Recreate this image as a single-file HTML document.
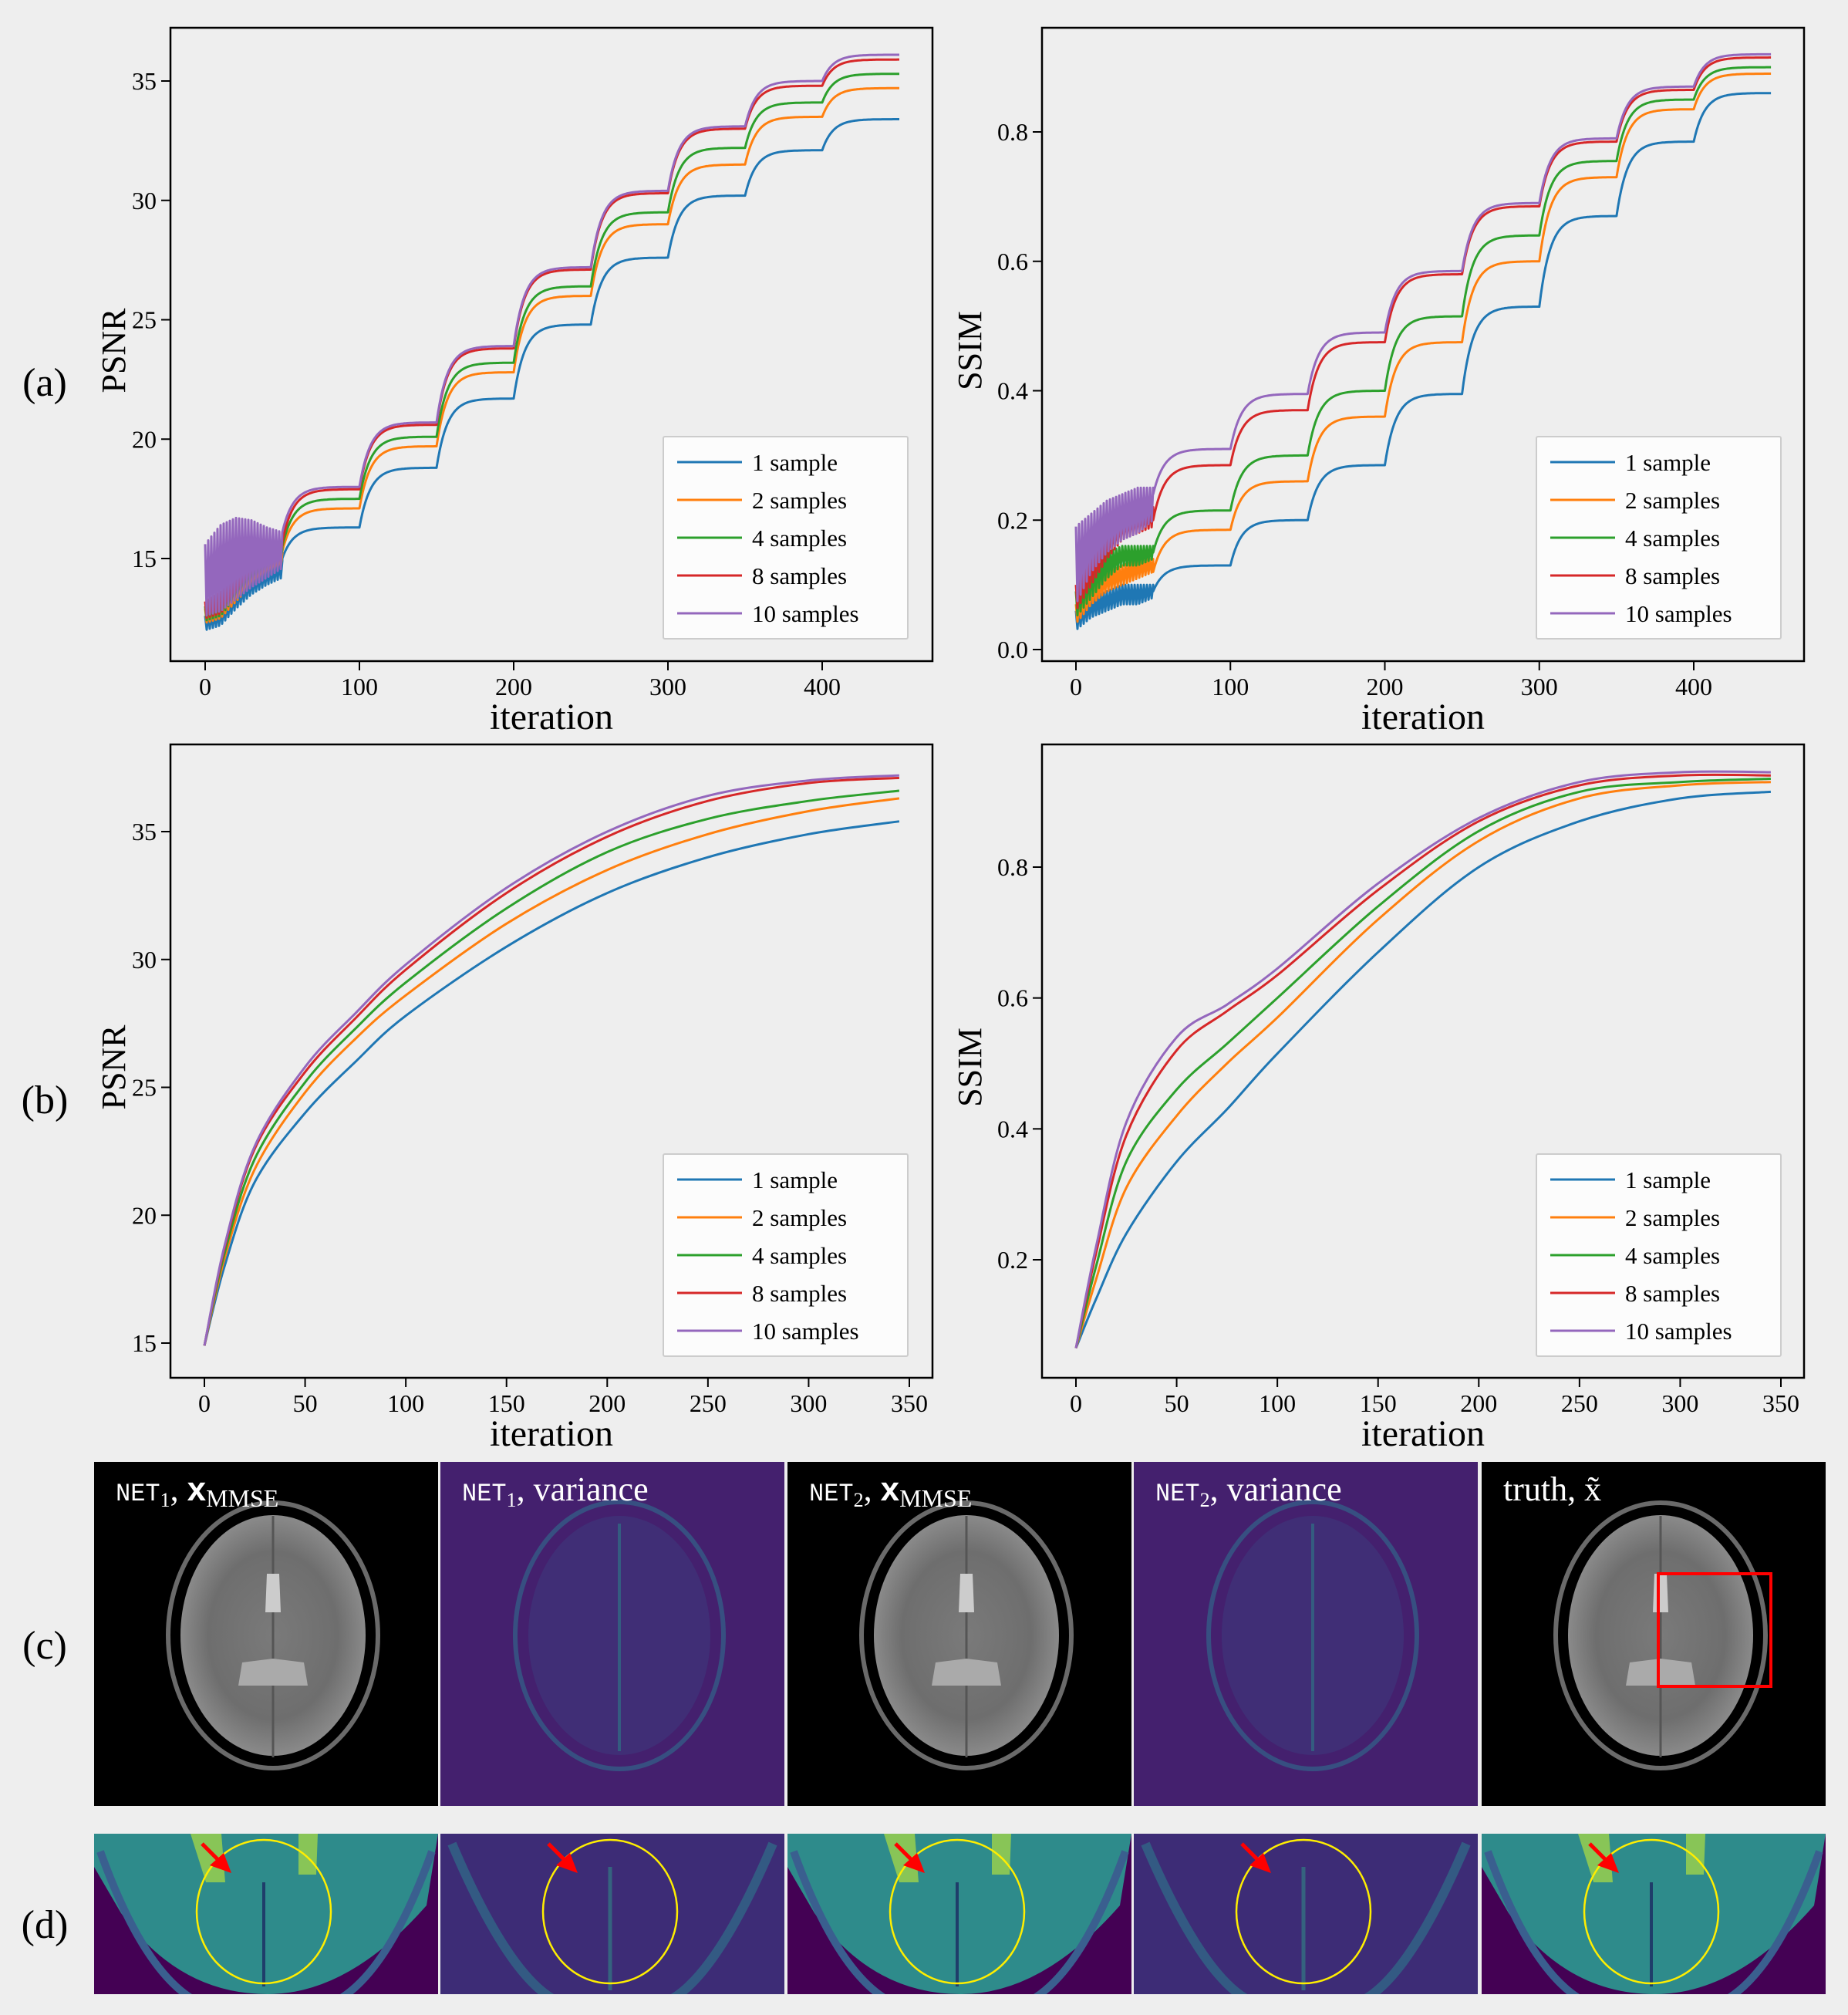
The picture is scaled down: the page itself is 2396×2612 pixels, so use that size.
<!DOCTYPE html>
<html><head><meta charset="utf-8">
<style>
html,body{margin:0;padding:0;background:#fff;}
svg{display:block;}
text{font-family:"Liberation Serif",serif;}
</style></head>
<body>
<svg id="fig" width="2396" height="2612" viewBox="0 0 2396 2612" xmlns="http://www.w3.org/2000/svg">
<defs>
<radialGradient id="brainG" cx="50%" cy="50%" r="50%">
<stop offset="0" stop-color="#7a7a7a"/><stop offset="0.7" stop-color="#6e6e6e"/><stop offset="1" stop-color="#8a8a8a"/>
</radialGradient>
</defs>
<rect x="0" y="0" width="2396" height="2612" fill="#eeeeee"/>
<g id="charts"></g>
<g id="images"></g>
</svg>
<script>
const seriesNames = ["1 sample","2 samples","4 samples","8 samples","10 samples"];
const seriesColors = ["#1f77b4","#ff7f0e","#2ca02c","#d62728","#9467bd"];
const stageEnds = [100,150,200,250,300,350,400,450];
const psnrA_start = [15.0,15.3,15.5,15.7,16.1];
const psnrA_1 = [16.3,18.8,21.7,24.8,27.6,30.2,32.1,33.4];
const psnrA_2 = [17.1,19.7,22.8,26.0,29.0,31.5,33.5,34.7];
const psnrA_4 = [17.5,20.1,23.2,26.4,29.5,32.2,34.1,35.3];
const psnrA_8 = [17.9,20.6,23.8,27.1,30.3,33.0,34.8,35.9];
const psnrA_10 = [18.0,20.7,23.9,27.2,30.4,33.1,35.0,36.1];
const warmIters = [0,10,20,30,40,50];
const psnrA_low = [[12.0,12.2,12.9,13.5,13.9,14.2],[12.3,12.5,13.2,13.9,14.4,14.7],[12.4,12.6,13.4,14.1,14.6,15.0],[12.5,12.7,13.5,14.3,14.8,15.2],[12.6,12.8,13.3,13.8,14.2,14.6]];
const psnrA_high = [[12.6,12.9,13.6,14.2,14.6,14.9],[12.9,13.2,13.9,14.6,15.0,15.2],[13.0,13.4,14.1,14.8,15.2,15.4],[13.2,13.6,14.3,15.0,15.4,15.6],[15.6,16.4,16.7,16.6,16.3,16.1]];
const ssimA_start = [0.09,0.12,0.15,0.20,0.24];
const ssimA_1 = [0.13,0.20,0.285,0.395,0.53,0.67,0.785,0.86];
const ssimA_2 = [0.185,0.26,0.36,0.475,0.60,0.73,0.835,0.89];
const ssimA_4 = [0.215,0.30,0.40,0.515,0.64,0.755,0.85,0.90];
const ssimA_8 = [0.285,0.37,0.475,0.58,0.685,0.785,0.865,0.915];
const ssimA_10 = [0.31,0.395,0.49,0.585,0.69,0.79,0.87,0.92];
const ssimA_low = [[0.03,0.05,0.06,0.07,0.07,0.08],[0.04,0.07,0.09,0.10,0.11,0.12],[0.05,0.08,0.11,0.13,0.13,0.14],[0.06,0.10,0.14,0.17,0.18,0.19],[0.07,0.12,0.15,0.17,0.18,0.20]];
const ssimA_high = [[0.06,0.08,0.09,0.10,0.10,0.10],[0.07,0.10,0.12,0.13,0.14,0.14],[0.09,0.13,0.15,0.16,0.16,0.16],[0.10,0.16,0.19,0.21,0.22,0.22],[0.19,0.21,0.23,0.24,0.25,0.25]];
const itersB = [0,10,25,50,75,100,150,200,250,300,345];
const psnrB_1 = [14.9,18.0,21.3,24.0,26.0,27.8,30.5,32.6,34.0,34.9,35.4];
const psnrB_2 = [14.9,18.3,21.8,24.8,26.9,28.6,31.4,33.5,34.9,35.8,36.3];
const psnrB_4 = [14.9,18.5,22.2,25.2,27.3,29.1,32.0,34.2,35.5,36.2,36.6];
const psnrB_8 = [14.9,18.7,22.6,25.6,27.7,29.6,32.6,34.8,36.2,36.9,37.1];
const psnrB_10 = [14.9,18.8,22.7,25.8,27.9,29.8,32.8,35.0,36.4,37.0,37.2];
const ssimB_1 = [0.065,0.14,0.24,0.35,0.43,0.515,0.67,0.80,0.87,0.905,0.915];
const ssimB_2 = [0.065,0.17,0.31,0.42,0.50,0.57,0.72,0.84,0.905,0.925,0.93];
const ssimB_4 = [0.065,0.19,0.35,0.46,0.53,0.60,0.74,0.855,0.915,0.93,0.935];
const ssimB_8 = [0.065,0.21,0.39,0.52,0.58,0.635,0.765,0.87,0.925,0.94,0.94];
const ssimB_10 = [0.065,0.22,0.41,0.54,0.59,0.645,0.775,0.875,0.93,0.945,0.945];
const xTicksA = [0,100,200,300,400];
const xTicksB = [0,50,100,150,200,250,300,350];
const psnrTicksA = [15,20,25,30,35];
const ssimTicksA = [0.0,0.2,0.4,0.6,0.8];
const psnrTicksB = [15,20,25,30,35];
const ssimTicksB = [0.2,0.4,0.6,0.8];

const NS="http://www.w3.org/2000/svg";
function el(tag, attrs, parent){const e=document.createElementNS(NS,tag);for(const k in attrs)e.setAttribute(k,attrs[k]);if(parent)parent.appendChild(e);return e;}
const charts=document.getElementById('charts');
function linScale(d0,d1,r0,r1){return v=>r0+(v-d0)/(d1-d0)*(r1-r0);}

function makeAxes(cfg){
  const g=el('g',{},charts);
  
  
  const x=linScale(cfg.xd[0],cfg.xd[1],cfg.xr[0],cfg.xr[1]);
  const y=linScale(cfg.yd[0],cfg.yd[1],cfg.yr[0],cfg.yr[1]);
  const lines=el('g',{},g);
  
  
  const frame=el('rect',{x:cfg.box[0],y:cfg.box[1],width:cfg.box[2]-cfg.box[0],height:cfg.box[3]-cfg.box[1],fill:'none',stroke:'#000','stroke-width':2.5},g);
  
  
  cfg.xticks.forEach(t=>{
    const px=x(t);
    el('line',{x1:px,x2:px,y1:cfg.box[3],y2:cfg.box[3]+12,stroke:'#000','stroke-width':2},g);
    const tx=el('text',{x:px,y:cfg.box[3]+44,'font-size':32,'text-anchor':'middle',fill:'#000'},g);
    tx.textContent=t;
    
    
  });
  cfg.yticks.forEach(t=>{
    const py=y(t);
    el('line',{x1:cfg.box[0]-12,x2:cfg.box[0],y1:py,y2:py,stroke:'#000','stroke-width':2},g);
    const tx=el('text',{x:cfg.box[0]-18,y:py+11,'font-size':32,'text-anchor':'end',fill:'#000'},g);
    tx.textContent=cfg.yfmt?t.toFixed(1):t;
    
    
  });
  const xl=el('text',{x:(cfg.box[0]+cfg.box[2])/2,y:cfg.box[3]+88,'font-size':48,'text-anchor':'middle',fill:'#000'},g);
  xl.textContent='iteration';
  
  
  const yl=el('text',{x:0,y:0,'font-size':44,'text-anchor':'middle',fill:'#000',transform:`translate(${cfg.ylx},${(cfg.box[1]+cfg.box[3])/2+8}) rotate(-90)`},g);
  yl.textContent=cfg.ylabel;
  
  
  return {g,lines,x,y};
}

function legend(g,lx,ly){
  const lg=el('g',{},g);
  
  
  el('rect',{x:lx,y:ly,width:317,height:262,fill:'#fcfcfc',stroke:'#cccccc','stroke-width':2,rx:2},lg);
  seriesNames.forEach((n,i)=>{
    const e=el('g',{},lg);
    
    
    const yy=ly+33+i*49;
    el('line',{x1:lx+18,x2:lx+102,y1:yy,y2:yy,stroke:seriesColors[i],'stroke-width':3},e);
    const t=el('text',{x:lx+115,y:yy+11,'font-size':31,fill:'#000'},e);
    t.textContent=n;
  });
}

function path(pts){return 'M'+pts.map(p=>p[0].toFixed(1)+','+p[1].toFixed(1)).join('L');}

function stepSeries(ax,start,ends,low,high,color,name){
  const pts=[];
  for(let it=0;it<=50;it++){
    const k=Math.min(4,Math.floor(it/10)),f=(it-warmIters[k])/10;
    const lo=low[k]+(low[k+1]-low[k])*f, hi=high[k]+(high[k+1]-high[k])*f;
    pts.push([ax.x(it),ax.y(it%2?lo:hi)]);
  }
  let prev=start;
  for(let s=0;s<ends.length;s++){
    const s0=stageEnds[s]-50;
    const norm=1-Math.exp(-50/7);
    for(let t=0;t<=50;t+=1){
      const v=prev+(ends[s]-prev)*(1-Math.exp(-t/7))/norm;
      pts.push([ax.x(s0+t),ax.y(v)]);
    }
    prev=ends[s];
  }
  const p=el('path',{d:path(pts),fill:'none',stroke:color,'stroke-width':3,'stroke-linejoin':'round'},ax.lines);
  
  
}
function smoothSeries(ax,vals,color,name){
  const pts=itersB.map((it,i)=>[ax.x(it),ax.y(vals[i])]);
  let d='M'+pts[0][0]+','+pts[0][1];
  for(let i=0;i<pts.length-1;i++){
    const p0=pts[Math.max(0,i-1)],p1=pts[i],p2=pts[i+1],p3=pts[Math.min(pts.length-1,i+2)];
    const c1=[p1[0]+(p2[0]-p0[0])/6,p1[1]+(p2[1]-p0[1])/6];
    const c2=[p2[0]-(p3[0]-p1[0])/6,p2[1]-(p3[1]-p1[1])/6];
    d+=`C${c1[0].toFixed(1)},${c1[1].toFixed(1)} ${c2[0].toFixed(1)},${c2[1].toFixed(1)} ${p2[0].toFixed(1)},${p2[1].toFixed(1)}`;
  }
  const p=el('path',{d,fill:'none',stroke:color,'stroke-width':3},ax.lines);
  
  
}

const a1=makeAxes({name:'psnr-chart-a',box:[221,36,1209,857],xd:[0,400],xr:[266,1066],yd:[15,35],yr:[724,105],xticks:xTicksA,yticks:psnrTicksA,ylabel:'PSNR',ylx:162});
[psnrA_1,psnrA_2,psnrA_4,psnrA_8,psnrA_10].forEach((s,i)=>stepSeries(a1,psnrA_start[i],s,psnrA_low[i],psnrA_high[i],seriesColors[i],'line-'+seriesNames[i].replace(' ','-')));
legend(a1.g,860,566);
const a2=makeAxes({name:'ssim-chart-a',box:[1351,36,2339,857],xd:[0,400],xr:[1395,2196],yd:[0,0.8],yr:[842,171],xticks:xTicksA,yticks:ssimTicksA,yfmt:true,ylabel:'SSIM',ylx:1272});
[ssimA_1,ssimA_2,ssimA_4,ssimA_8,ssimA_10].forEach((s,i)=>stepSeries(a2,ssimA_start[i],s,ssimA_low[i],ssimA_high[i],seriesColors[i],'line-'+seriesNames[i].replace(' ','-')));
legend(a2.g,1992,566);
const b1=makeAxes({name:'psnr-chart-b',box:[221,965,1209,1786],xd:[0,350],xr:[265,1179],yd:[15,35],yr:[1741,1078],xticks:xTicksB,yticks:psnrTicksB,ylabel:'PSNR',ylx:162});
[psnrB_1,psnrB_2,psnrB_4,psnrB_8,psnrB_10].forEach((s,i)=>smoothSeries(b1,s,seriesColors[i],'line-'+seriesNames[i].replace(' ','-')));
legend(b1.g,860,1496);
const b2=makeAxes({name:'ssim-chart-b',box:[1351,965,2339,1786],xd:[0,350],xr:[1395,2309],yd:[0.2,0.8],yr:[1633,1124],xticks:xTicksB,yticks:ssimTicksB,yfmt:true,ylabel:'SSIM',ylx:1272});
[ssimB_1,ssimB_2,ssimB_4,ssimB_8,ssimB_10].forEach((s,i)=>smoothSeries(b2,s,seriesColors[i],'line-'+seriesNames[i].replace(' ','-')));
legend(b2.g,1992,1496);

[['(a)',513],['(b)',1443],['(c)',2150],['(d)',2512]].forEach(([t,y])=>{
  const e=el('text',{x:58,y:y,'font-size':52,'text-anchor':'middle',fill:'#000'},charts);
  e.textContent=t;
  
  
});

const imgs=document.getElementById('images');
const px=[122,571,1021,1470,1921], W=446;
const cTitles=[['NET','1',', ','x','MMSE'],['NET','1',', variance','',''],['NET','2',', ','x','MMSE'],['NET','2',', variance','',''],['truth, ','','','x̃','']];
const defs=document.querySelector('defs');
px.forEach((x0,i)=>{
  const cp=el('clipPath',{id:'cpd'+i},defs);
  el('rect',{x:x0,y:2377,width:W,height:208},cp);
  const g=el('g',{},imgs);
  
  
  const isVar=(i===1||i===3);
  el('rect',{x:x0,y:1895,width:W,height:446,fill:isVar?'#44206e':'#000'},g);
  const cx=x0+232, cy=2120;
  if(isVar){
    el('ellipse',{cx,cy,rx:135,ry:173,fill:'none',stroke:'#2f6f8e','stroke-width':6,opacity:0.6},g);
    el('ellipse',{cx,cy,rx:118,ry:155,fill:'#3a4a88',opacity:0.35},g);
    el('line',{x1:cx,y1:1975,x2:cx,y2:2270,stroke:'#2a8a8a','stroke-width':4,opacity:0.5},g);
  } else {
    el('ellipse',{cx,cy,rx:136,ry:172,fill:'none',stroke:'#6a6a6a','stroke-width':6},g);
    el('ellipse',{cx,cy,rx:120,ry:156,fill:'url(#brainG)'},g);
    el('line',{x1:cx,y1:1965,x2:cx,y2:2278,stroke:'#555','stroke-width':3},g);
    el('path',{d:`M${cx-8},2040 L${cx+8},2040 L${cx+10},2090 L${cx-10},2090Z`,fill:'#ccc'},g);
    el('path',{d:`M${cx-40},2155 L${cx},2150 L${cx+40},2155 L${cx+45},2185 L${cx-45},2185Z`,fill:'#aaa'},g);
  }
  if(i===4){
    const rr=el('rect',{x:2150,y:2040,width:146,height:146,fill:'none',stroke:'#ff0000','stroke-width':4},g);
    
    
  }
  const t=cTitles[i];
  const tx=el('text',{x:x0+28,y:1945,'font-size':44,fill:'#fff'},g);
  
  
  if(i===4){tx.textContent='truth, x̃';}
  else{
    const s1=el('tspan',{'font-family':'Liberation Mono','font-size':32},tx);s1.textContent=t[0];
    const s2=el('tspan',{'font-size':26,dy:8},tx);s2.textContent=t[1];
    const s3=el('tspan',{dy:-8},tx);s3.textContent=t[2];
    if(t[3]){const s4=el('tspan',{'font-family':'Liberation Sans','font-weight':'bold'},tx);s4.textContent=t[3];
      const s5=el('tspan',{'font-size':32,dy:8},tx);s5.textContent=t[4];}
  }
  const gd=el('g',{'clip-path':`url(#cpd${i})`},imgs);
  
  
  el('rect',{x:x0,y:2377,width:W,height:208,fill:'#440154'},gd);
  if(isVar){
    el('rect',{x:x0,y:2377,width:W,height:208,fill:'#3b3f85',opacity:0.7},gd);
    el('path',{d:`M${x0+15},2390 Q${x0+100},2590 ${x0+170},2600`,fill:'none',stroke:'#2d7a8c','stroke-width':12,opacity:0.6},gd);
    el('path',{d:`M${x0+W-15},2390 Q${x0+W-100},2590 ${x0+W-170},2600`,fill:'none',stroke:'#2d7a8c','stroke-width':12,opacity:0.6},gd);
    el('line',{x1:x0+220,y1:2420,x2:x0+220,y2:2580,stroke:'#2f9a88','stroke-width':5,opacity:0.5},gd);
  } else {
    el('path',{d:`M${x0},2377 L${x0+W},2377 L${x0+W-15},2470 Q${x0+330},2585 ${x0+225},2585 Q${x0+110},2585 ${x0+35},2480 L${x0},2420 Z`,fill:'#2e8b8b'},gd);
    el('path',{d:`M${x0+125},2377 L${x0+165},2377 L${x0+170},2440 L${x0+145},2440Z`,fill:'#9fd34a',opacity:0.8},gd);
    el('path',{d:`M${x0+265},2377 L${x0+290},2377 L${x0+288},2430 L${x0+265},2430Z`,fill:'#9fd34a',opacity:0.8},gd);
    el('line',{x1:x0+220,y1:2440,x2:x0+220,y2:2575,stroke:'#1f3d6a','stroke-width':4},gd);
    el('path',{d:`M${x0+8},2400 Q${x0+80},2600 ${x0+170},2605`,fill:'none',stroke:'#3a5f8f','stroke-width':10},gd);
    el('path',{d:`M${x0+W-8},2400 Q${x0+W-80},2600 ${x0+W-170},2605`,fill:'none',stroke:'#3a5f8f','stroke-width':10},gd);
  }
  const ell=el('ellipse',{cx:x0+220,cy:2478,rx:87,ry:93,fill:'none',stroke:'#ffee00','stroke-width':2.5},gd);
  
  
  const ar=el('g',{},gd);
  
  
  el('line',{x1:x0+140,y1:2390,x2:x0+160,y2:2410,stroke:'#ff0000','stroke-width':5},ar);
  el('polygon',{points:`${x0+178},2428 ${x0+150},2418 ${x0+168},2402`,fill:'#ff0000'},ar);
});
</script>
</body></html>
